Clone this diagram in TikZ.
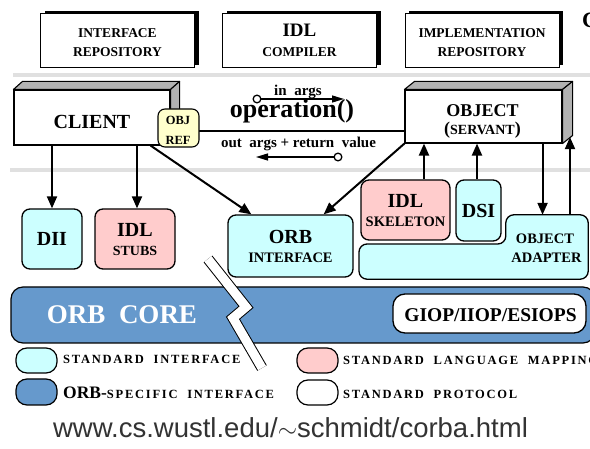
\documentclass[tikz,border=0pt]{standalone}
\usepackage{fontspec}
\setmainfont{Liberation Serif}
\newfontfamily\urlfont{Liberation Sans}
\newfontfamily\trackfont[LetterSpace=14]{Liberation Serif}
\usetikzlibrary{arrows.meta,calc,shadows}

\definecolor{stdif}{HTML}{CCFFFF}
\definecolor{langmap}{HTML}{FFCCCC}
\definecolor{orbspec}{HTML}{6699CC}
\definecolor{objrefc}{HTML}{FFFFCC}
\definecolor{sepgray}{HTML}{E0E0E0}
\definecolor{urlgray}{HTML}{333333}
\newcommand\tsz[1]{\fontsize{#1}{#1}\selectfont}

\tikzset{
  every node/.style={inner sep=0pt, font=\bfseries},
  lbl/.style={font=\bfseries\tsz{#1}},
  trk/.style={font=\trackfont\bfseries\tsz{12.5}, anchor=base west},
  toolbox/.style={draw, fill=white, line width=1pt, minimum width=154pt,
    minimum height=54pt,
    drop shadow={shadow xshift=4pt, shadow yshift=3pt, fill=black, opacity=1}},
  face/.style={draw, fill=white, line width=1.1pt},
  sideface/.style={draw, fill=gray!60, line width=1.1pt, line join=round},
  rbox/.style={draw, line width=1.3pt, rounded corners=8pt},
  conn/.style={line width=2pt, -{Triangle[length=12pt,width=10pt]}},
  msg/.style={line width=1.3pt,
    {Circle[open,length=9pt,width=9pt]}-{Triangle[length=12pt,width=7pt]}},
  sep/.style={sepgray, line width=4pt},
  legbox/.style={draw, line width=1.2pt, rounded corners=11pt,
    minimum width=41pt, minimum height=25pt},
}

\begin{document}
\begin{tikzpicture}[x=1pt,y=-1pt]
\useasboundingbox (0,0) rectangle (590,449);
\fill[white] (0,0) rectangle (590,449);

% horizontal separators
\draw[sep] (13,75.5) -- (592,75.5);
\draw[sep] (10,170.5) -- (592,170.5);

% tool boxes along the top
\node[toolbox] (irep) at (117.5,41) {};
\node[lbl=13.5] (irep-a) at (117.5,33) {INTERFACE};
\node[lbl=13.5] (irep-b) at (117.5,52) {REPOSITORY};

\node[toolbox] (idlc) at (299.5,41) {};
\node[lbl=19] (idlc-a) at (299.5,30) {IDL};
\node[lbl=13.5] (idlc-b) at (299.5,52) {COMPILER};

\node[toolbox] (impl) at (482,41) {};
\node[lbl=13.5] (impl-a) at (482,33) {IMPLEMENTATION};
\node[lbl=13.5] (impl-b) at (482,52) {REPOSITORY};

\node[lbl=22, anchor=west] (title) at (582,20) {C};

% client block
\node[face, minimum width=156pt, minimum height=55pt] (client) at (92,117.5) {};
\draw[sideface] (client.north west) -- ++(9,-8) -- ($(client.north east)+(9,-8)$)
  -- (client.north east) -- cycle;
\draw[sideface] (client.north east) -- ++(9,-8) -- ($(client.south east)+(9,-8)$)
  -- (client.south east) -- cycle;
\node[lbl=20] (client-t) at (92,122) {CLIENT};

% object block
\node[face, minimum width=157pt, minimum height=53pt] (object) at (483.5,116.5) {};
\draw[sideface] (object.north west) -- ++(10,-8) -- ($(object.north east)+(10,-8)$)
  -- (object.north east) -- cycle;
\draw[sideface] (object.north east) -- ++(10,-8) -- ($(object.south east)+(10,-8)$)
  -- (object.south east) -- cycle;
\node[lbl=18, anchor=base] (object-a) at (482.5,116.5) {OBJECT};
\node[anchor=base] (object-b) at (482.5,134.5)
  {\tsz{18}(\tsz{14}SERVANT\tsz{18})};

% request line with its object reference
\draw[line width=2pt] ($(client.east)+(20,13.5)$) coordinate (oe) -- (oe -| object.west);
\node[draw, fill=objrefc, rounded corners=7pt, line width=1.1pt,
  minimum width=41pt, minimum height=38pt] (oref) at (178.5,128) {};
\node[lbl=12.5] (oref-a) at (178,120.5) {OBJ};
\node[lbl=12.5] (oref-b) at (178,140) {REF};

\coordinate (inA) at (252.5,99);
\coordinate (inB) at (344,99);
\draw[msg] (inA) -- (inB);
\node[lbl=15, anchor=base] (inargs) at (298,95.5) {in\ \ args};
\node[lbl=26, anchor=base] (opname) at (292,118) {operation()};
\node[lbl=15, anchor=base] (outargs) at (298.5,147.5) {out\ \ args + return\ \ value};
\coordinate (retA) at (342.5,157);
\coordinate (retB) at (256,157);
\draw[msg] (retA) -- (retB);

% client-side interfaces
\node[rbox, fill=stdif, minimum width=60pt, minimum height=60pt, lbl=20] (dii) at (52,239) {DII};
\node[rbox, fill=langmap, minimum width=80pt, minimum height=60pt] (stubs) at (135,239) {};
\node[lbl=20] (stubs-a) at (135,230) {IDL};
\node[lbl=14] (stubs-b) at (135,250.5) {STUBS};

\node[rbox, fill=stdif, minimum width=125pt, minimum height=62pt] (orbif) at (290.5,246) {};
\node[lbl=20] (orbif-a) at (290.5,237) {ORB};
\node[lbl=14.5] (orbif-b) at (290.5,258) {INTERFACE};

% server-side interfaces
\node[rbox, fill=langmap, minimum width=89pt, minimum height=60pt] (skel) at (405.5,210) {};
\node[lbl=20] (skel-a) at (405.5,201) {IDL};
\node[lbl=14.5] (skel-b) at (405.5,222) {SKELETON};

\node[rbox, fill=stdif, minimum width=45pt, minimum height=61pt, lbl=20] (dsi) at (478.5,210.5) {DSI};

\node[minimum width=82pt, minimum height=64pt] (oa) at (547,247) {};
\coordinate (oabar) at (359,244);
\draw[rbox, fill=stdif] (oabar) -- (oabar -| oa.west) -- (oa.north west)
  -- (oa.north east) -- (oa.south east) -- (oa.south east -| oabar) -- cycle;
\node[lbl=14.5] (oa-a) at (545,239) {OBJECT};
\node[lbl=14.5] (oa-b) at (546.5,258) {ADAPTER};

% connectors
\draw[conn] (dii.north |- client.south) -- (dii.north);
\draw[conn] ($(stubs.north)+(2,0)$) coordinate (st) (st |- client.south) -- (st);
\draw[conn] ($(client.south east)+(-20,0)$) -- ($(orbif.north west)+(24,0)$);
\draw[conn] (object.south west) -- ($(orbif.north east)+(-30,0)$);
\draw[conn] ($(skel.north)+(18.5,0)$) coordinate (sk) -- (sk |- object.south);
\draw[conn] ($(dsi.north)+(-1.5,0)$) coordinate (ds) -- (ds |- object.south);
\draw[conn] ($(object.south east)+(-20,0)$) coordinate (od) -- (od |- oa.north);
\coordinate (objfoot) at ($(object.south east)+(8,-6.4)$);
\draw[conn] ($(oa.north)+(23,0)$) coordinate (ou) -- (ou |- objfoot);

% ORB core
\node[draw, fill=orbspec, rounded corners=12pt, line width=1.2pt,
  minimum width=584pt, minimum height=56pt] (core) at (303,315) {};
\node[lbl=27, text=white] (core-t) at (122,315) {ORB\ \ CORE};

% break in the core
\coordinate (z1) at (208,259);
\coordinate (z2) at (246,307);
\coordinate (z3) at (233,318);
\coordinate (z4) at (262,368);
\draw[line width=11pt, miter limit=4] (z1) -- (z2) -- (z3) -- (z4);
\draw[white, line width=9pt, miter limit=4] (z1) -- (z2) -- (z3) -- (z4);

\node[draw, fill=white, rounded corners=12pt, line width=1.3pt,
  minimum width=193pt, minimum height=39pt] (giop) at (489.5,313.5) {};
\node[lbl=19.5] (giop-t) at (490.5,315) {GIOP/IIOP/ESIOPS};

% legend
\node[legbox, fill=stdif] (leg-si) at (36.5,360.5) {};
\node[trk] (leg-si-t) at (63,364) {STANDARD\ \ INTERFACE};
\node[legbox, fill=orbspec, minimum height=26pt] (leg-os) at (36.5,392) {};
\node[anchor=base west] (leg-os-t) at (63,398.5)
  {\tsz{17.5}ORB-\trackfont\tsz{12.5}SPECIFIC\ \ INTERFACE};
\node[legbox, fill=langmap] (leg-lm) at (317.5,360.5) {};
\node[trk] (leg-lm-t) at (343,364.5) {STANDARD\ \ LANGUAGE\ \ MAPPING};
\node[legbox, fill=white] (leg-sp) at (317.5,392.5) {};
\node[trk] (leg-sp-t) at (343,398.5) {STANDARD\ \ PROTOCOL};

% address line
\node[font=\urlfont\mdseries\tsz{27.5}, text=urlgray, anchor=base] (url) at (290.5,438)
  {www.cs.wustl.edu/$\sim$schmidt/corba.html};
\end{tikzpicture}
\end{document}
